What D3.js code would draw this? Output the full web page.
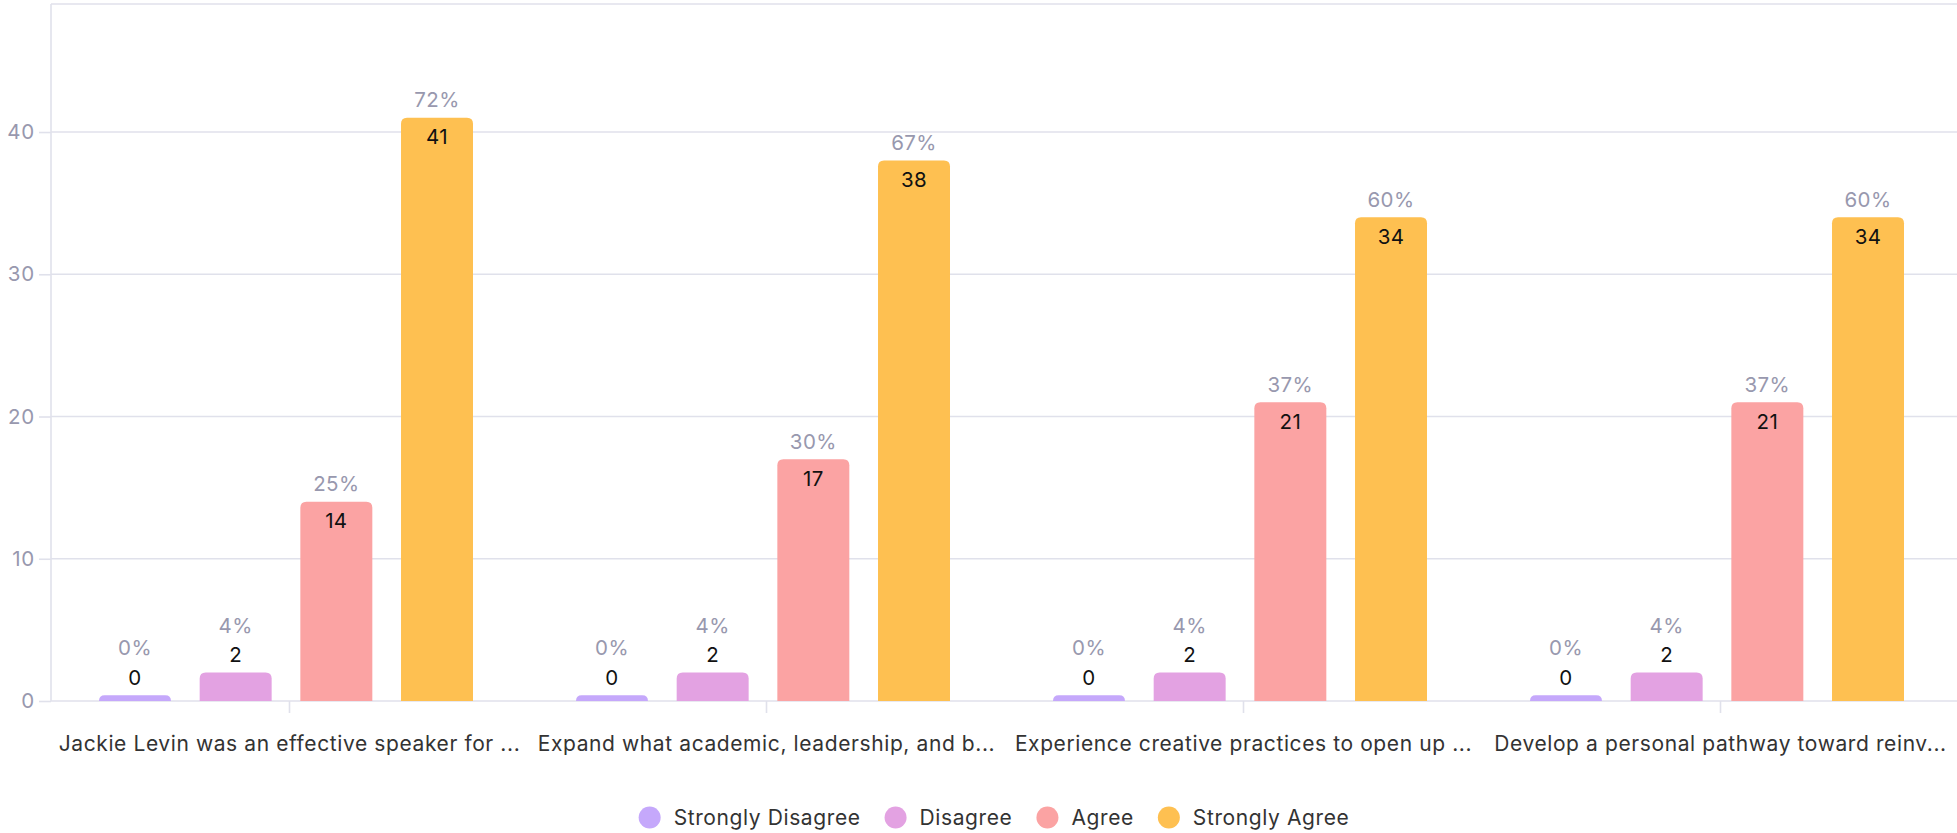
<!DOCTYPE html>
<html>
<head>
<meta charset="utf-8">
<script src="https://cdn.jsdelivr.net/npm/d3@7"></script>
<style>
  html, body { margin: 0; padding: 0; background: #ffffff; }
  svg { display: block; font-family: Inter, "Open Sans", sans-serif; }
</style>
</head>
<body>
<svg id="chart" width="1957" height="833"></svg>
<script>
// Survey questions (labels as shown under each group)
const questions = [
  "Jackie Levin was an effective speaker for ...",
  "Expand what academic, leadership, and b...",
  "Experience creative practices to open up ...",
  "Develop a personal pathway toward reinv..."
];

// Response options, in drawing order
const responses = ["Strongly Disagree", "Disagree", "Agree", "Strongly Agree"];

// Response counts per question
const stronglyDisagree = [0, 0, 0, 0];
const disagree         = [2, 2, 2, 2];
const agree            = [14, 17, 21, 21];
const stronglyAgree    = [41, 38, 34, 34];

// Share of respondents per question
const pctStronglyDisagree = ["0%", "0%", "0%", "0%"];
const pctDisagree         = ["4%", "4%", "4%", "4%"];
const pctAgree            = ["25%", "30%", "37%", "37%"];
const pctStronglyAgree    = ["72%", "67%", "60%", "60%"];

// Value axis
const yTicks = [0, 10, 20, 30, 40];
const yMax = 49;

const responseColors = ["#c5a8fb", "#e3a2e2", "#fba3a3", "#fec051"];

const counts = [stronglyDisagree, disagree, agree, stronglyAgree];
const pcts = [pctStronglyDisagree, pctDisagree, pctAgree, pctStronglyAgree];

const rows = [];
questions.forEach((q, qi) => {
  responses.forEach((r, ri) => {
    rows.push({ question: q, response: r, value: counts[ri][qi], pct: pcts[ri][qi], color: responseColors[ri] });
  });
});

const svg = d3.select("#chart");
const W = 1957;

const plot = { left: 51, top: 4, bottom: 701, right: 1959 };

const x = d3.scaleBand().domain(questions).range([plot.left, plot.right]).padding(0);
const inner = d3.scaleBand().domain(responses)
  .range([48, 48 + 374]).paddingInner(0.285).paddingOuter(0);
const y = d3.scaleLinear().domain([0, yMax]).range([plot.bottom, plot.top]);

const gridColor = "#e0e1eb";
const mutedText = "#9898ae";

// Gridlines
svg.append("g")
  .selectAll("line")
  .data(yTicks.concat([yMax]))
  .join("line")
  .attr("x1", plot.left).attr("x2", W)
  .attr("y1", d => y(d)).attr("y2", d => y(d))
  .attr("stroke", gridColor).attr("stroke-width", 1.6);

// Y axis
const yAxis = svg.append("g")
  .attr("transform", `translate(${plot.left},0)`)
  .call(d3.axisLeft(y).tickValues(yTicks).tickSize(12).tickPadding(4));
yAxis.select(".domain").remove();
yAxis.append("line")
  .attr("x1", 0).attr("x2", 0)
  .attr("y1", y(yMax)).attr("y2", plot.bottom)
  .attr("stroke", gridColor).attr("stroke-width", 1.6);
yAxis.selectAll(".tick line").attr("stroke", gridColor).attr("stroke-width", 1.6);
yAxis.selectAll(".tick text")
  .attr("fill", mutedText)
  .style("font-size", "20.5px")
  .style("letter-spacing", "0.8px")
  .style("font-family", "Inter, sans-serif");

// X axis
const xAxis = svg.append("g")
  .attr("transform", `translate(0,${plot.bottom})`)
  .call(d3.axisBottom(x).tickSize(12).tickPadding(23));
xAxis.select(".domain").remove();
xAxis.selectAll(".tick line").attr("stroke", gridColor).attr("stroke-width", 1.6);
xAxis.selectAll(".tick text")
  .attr("fill", "#333333")
  .style("font-size", "21px")
  .style("letter-spacing", "0.6px")
  .style("font-family", "Inter, sans-serif");

// Bars with rounded top corners
const minBarHeight = 5.7;
function topRoundedBar(x0, yTop, w, h, r) {
  const rr = Math.min(r, h, w / 2);
  return `M${x0},${yTop + h}` +
    `V${yTop + rr}` +
    `Q${x0},${yTop} ${x0 + rr},${yTop}` +
    `H${x0 + w - rr}` +
    `Q${x0 + w},${yTop} ${x0 + w},${yTop + rr}` +
    `V${yTop + h}Z`;
}

const groups = svg.append("g").selectAll("g")
  .data(rows)
  .join("g")
  .attr("transform", d => `translate(${x(d.question) + inner(d.response)},0)`);

groups.each(function (d) {
  const g = d3.select(this);
  const bw = inner.bandwidth();
  const h = Math.max(y(0) - y(d.value), minBarHeight);
  const top = y(0) - h;
  g.append("path")
    .attr("d", topRoundedBar(0, top, bw, h, 6))
    .attr("fill", d.color);

  const inside = h >= 40;
  const countY = inside ? top + 26.5 : top - 10.5;
  const pctY = inside ? top - 10.5 : top - 40;

  g.append("text")
    .attr("x", bw / 2).attr("y", countY)
    .attr("text-anchor", "middle")
    .attr("fill", "#111111")
    .style("font-size", "20.5px")
    .style("letter-spacing", "0.4px")
    .text(d.value);

  g.append("text")
    .attr("x", bw / 2).attr("y", pctY)
    .attr("text-anchor", "middle")
    .attr("fill", mutedText)
    .style("font-size", "20.5px")
    .style("letter-spacing", "0.4px")
    .text(d.pct);
});

// Legend
const legend = svg.append("g");
const legendY = 817.5;
let cursor = 0;
responses.forEach((r, i) => {
  const item = legend.append("g");
  item.append("circle").attr("cx", 11).attr("cy", legendY).attr("r", 11).attr("fill", responseColors[i]);
  const t = item.append("text")
    .attr("x", 35).attr("y", legendY)
    .attr("dy", "0.35em")
    .attr("fill", "#333333")
    .style("font-size", "21px")
    .style("letter-spacing", "0.6px")
    .text(r);
  const tw = t.node().getComputedTextLength();
  item.attr("transform", `translate(${cursor},0)`);
  cursor += 35 + tw + 24;
});
const legendWidth = cursor - 24;
legend.attr("transform", `translate(${994 - legendWidth / 2},0)`);
</script>
</body>
</html>
